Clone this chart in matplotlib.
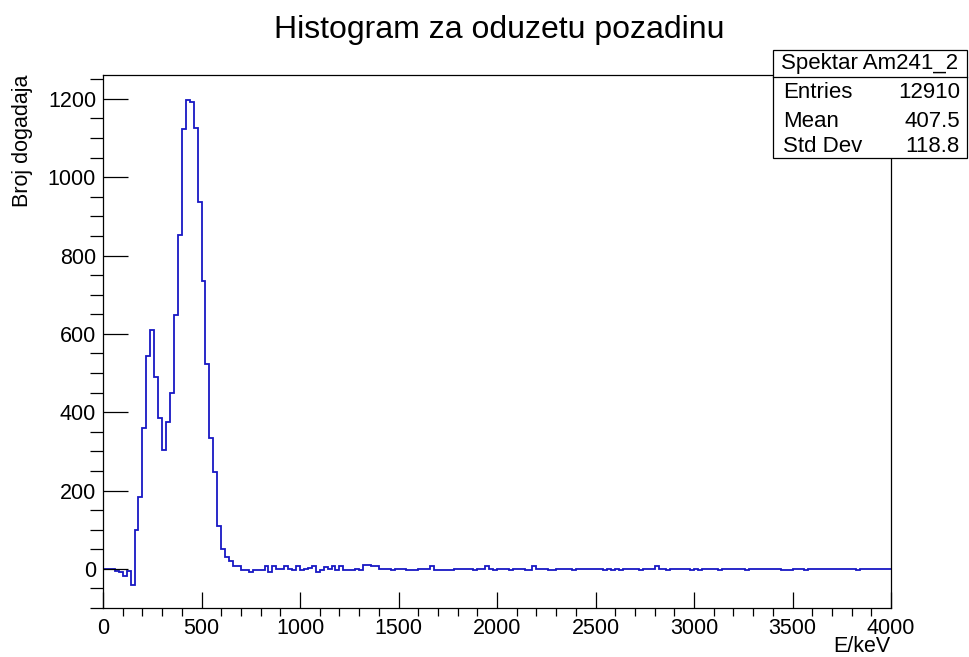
import numpy as np
import matplotlib
matplotlib.use("Agg")
import matplotlib.pyplot as plt
from matplotlib.ticker import MultipleLocator

# background-subtracted spectrum, 20 keV bins from 0 to 4000 keV
bin_width = 20
counts = [
    0, 0, 0, -5, -8, -19, -6, -42, 99, 184,
    360, 544, 609, 490, 384, 303, 374, 450, 648, 852,
    1122, 1196, 1192, 1126, 937, 735, 522, 335, 246, 110,
    50, 30, 21, 8, 8, -3, -3, -9, -3, -3,
    -3, 8, -9, 8, 0, 0, 6, 0, -3, 6,
    -3, 0, 3, 6, -8, -3, 4, 0, 6, -3,
    6, -3, -3, -3, 0, -3, 9, 9, 6, 6,
    0, 0, 0, -3, 0, 0, 0, -3, -3, -3,
    0, 0, 0, 6, -3, -3, -3, -3, -3, 0,
    0, 0, 0, 0, -3, 0, 0, 6, 0, -3,
    0, 0, 0, -3, 0, 0, 0, -3, -3, 6,
    0, 0, 0, -3, -3, 0, 0, 0, 0, -3,
    0, 0, 0, 0, 0, 0, 0, -3, 0, -3,
    0, -3, 0, 0, 0, 0, -3, 0, 0, 0,
    6, 0, 0, -3, 0, 0, 0, 0, 0, -3,
    0, -3, 0, 0, 0, 0, -3, 0, 0, 0,
    0, 0, 0, -3, 0, 0, 0, 0, 0, 0,
    0, 0, -3, -3, -3, 0, 0, 0, -3, 0,
    0, 0, 0, 0, 0, 0, 0, 0, 0, 0,
    0, -3, 0, 0, 0, 0, 0, 0, 0, 0,
]
edges = np.arange(len(counts) + 1) * bin_width

stats_name = "Spektar Am241_2"
stats_rows = [("Entries", "12910"), ("Mean", "407.5"), ("Std Dev", "118.8")]

plt.rcParams['font.family'] = ['Liberation Sans', 'DejaVu Sans']

fig = plt.figure(figsize=(9.7, 6.57), dpi=100)
ax = fig.add_axes([0.1062, 0.0746, 0.8124, 0.8112])

ax.stairs(counts, edges, color='#1818c4', linewidth=1.3, baseline=None)

ax.set_xlim(0, 4000)
ax.set_ylim(-100, 1261)
ax.xaxis.set_major_locator(MultipleLocator(500))
ax.xaxis.set_minor_locator(MultipleLocator(100))
ax.yaxis.set_major_locator(MultipleLocator(200))
ax.yaxis.set_minor_locator(MultipleLocator(50))
ax.tick_params(direction='in', top=False, right=False, labelsize=15.5, width=0.9)
ax.tick_params(axis='x', which='major', length=11.5, pad=7)
ax.tick_params(axis='x', which='minor', length=5.8, width=0.9)
ax.tick_params(axis='y', which='major', length=18, pad=5)
ax.tick_params(axis='y', which='minor', length=9.5, width=0.9)
for s in ax.spines.values():
    s.set_linewidth(0.9)

fig.text(0.515, 0.955, "Histogram za oduzetu pozadinu", ha='center', va='center', fontsize=23)
# x label placed explicitly so it stays inside the canvas
fig.text(891 / 970, 1 - 647 / 657, "E/keV", ha='right', va='center', fontsize=15.5)
ax.set_ylabel("Broj dogadaja", fontsize=15.5, ha='right', y=1.0, labelpad=11)

# ROOT-like stats box
bx0, bx1 = 773 / 970, 967 / 970
by_top, by_head, by_bot = 1 - 50 / 657, 1 - 77 / 657, 1 - 158 / 657
box = plt.Rectangle((bx0, by_bot), bx1 - bx0, by_top - by_bot, transform=fig.transFigure,
                    facecolor='white', edgecolor='black', linewidth=0.9, zorder=5)
fig.add_artist(box)
fig.add_artist(plt.Line2D([bx0, bx1], [by_head, by_head], transform=fig.transFigure,
                          color='black', linewidth=0.9, zorder=6))
fig.text((bx0 + bx1) / 2, (by_top + by_head) / 2, stats_name, ha='center', va='center',
         fontsize=16, zorder=7)
row_y = [93, 121.5, 147]
for (lab, val), yy in zip(stats_rows, row_y):
    fig.text(783 / 970, 1 - yy / 657, lab, ha='left', va='center', fontsize=16, zorder=7)
    fig.text(960 / 970, 1 - yy / 657, val, ha='right', va='center', fontsize=16, zorder=7)

fig.savefig("out.png", dpi=100)
